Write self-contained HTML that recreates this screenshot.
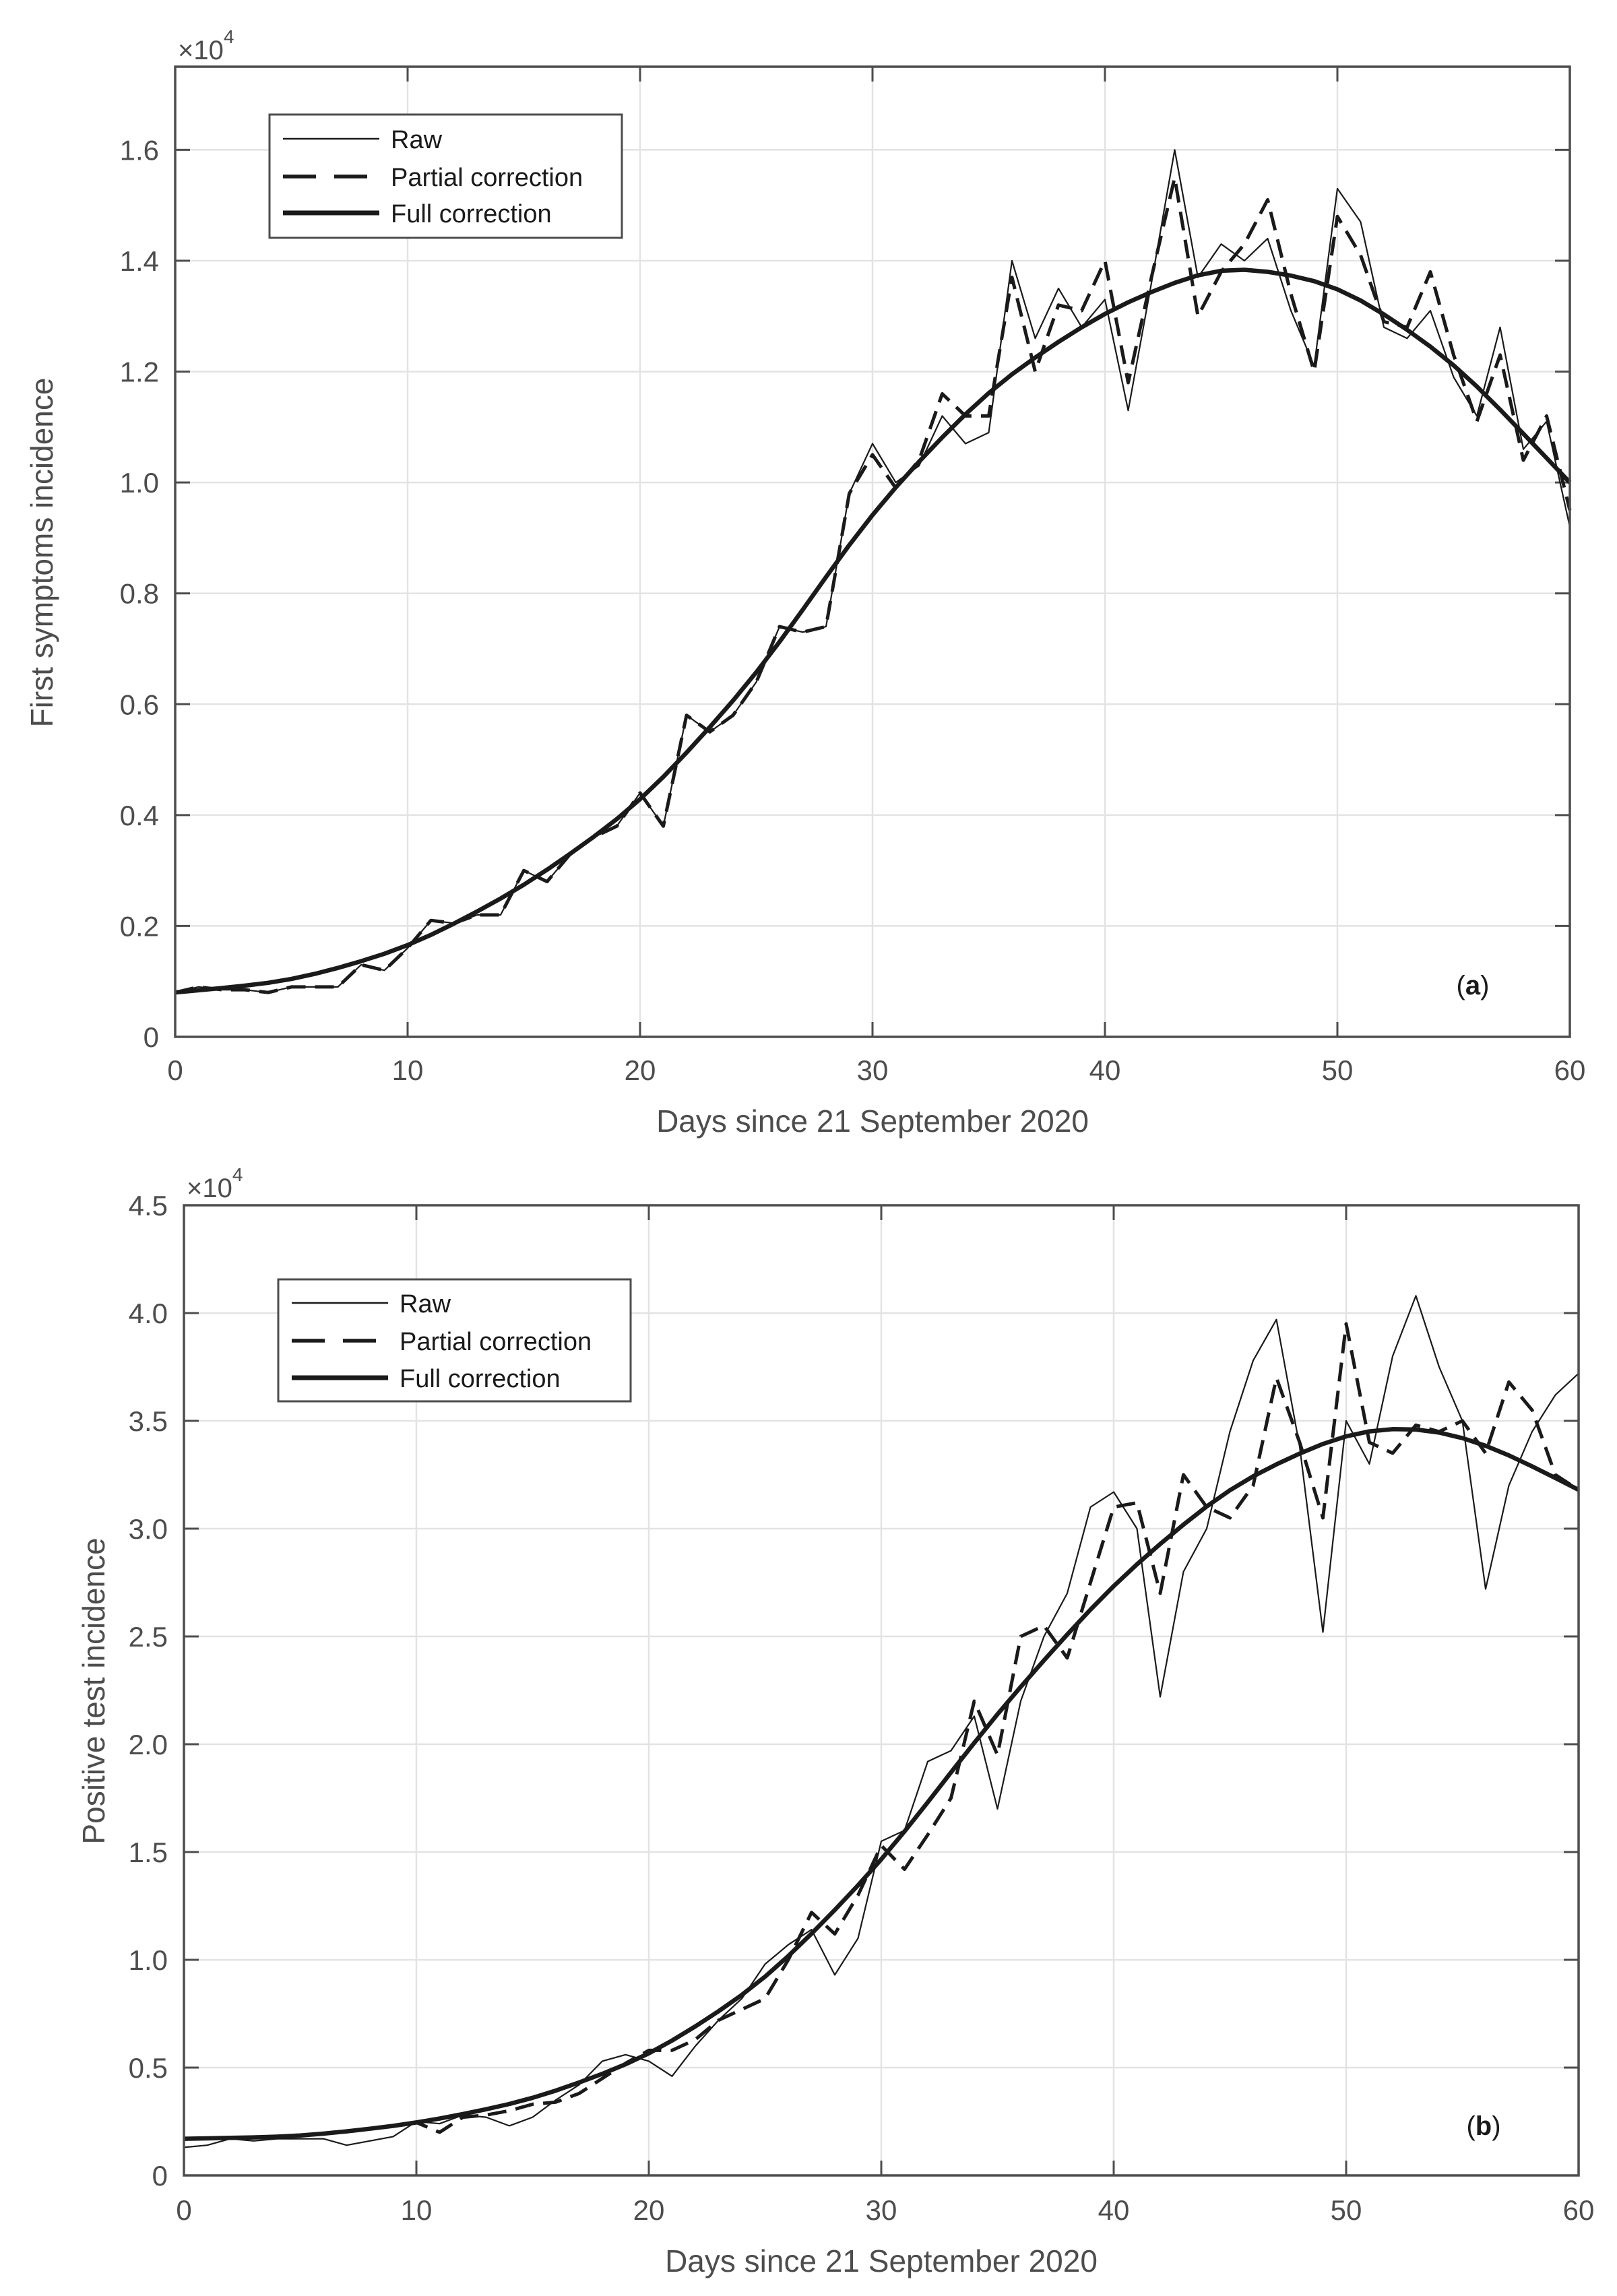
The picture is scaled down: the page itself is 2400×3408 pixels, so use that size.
<!DOCTYPE html>
<html><head><meta charset="utf-8"><style>
html,body{margin:0;padding:0;background:#fff;}
svg{display:block;font-family:"Liberation Sans",Arial,sans-serif;}
</style></head><body>
<svg id="s" width="2400" height="3408" viewBox="0 0 2400 3408" xmlns="http://www.w3.org/2000/svg"></svg>
<script>
const S=document.getElementById('s');let h='';
function plot(o){
 const {L,R,T,B,ymax,ystep,ndec,raw,part,full,leg,exp,lab,labx,laby,ylab,ylx,yly,xty,xtitle}=o;
 const X=d=>L+(R-L)*d/60, Y=v=>B-(B-T)*v/ymax;
 for(let d=0;d<=60;d+=10){h+=`<line x1="${X(d)}" y1="${T}" x2="${X(d)}" y2="${B}" stroke="#e3e3e3" stroke-width="2.5"/>`;}
 for(let v=0;v<=ymax+1e-9;v+=ystep){h+=`<line x1="${L}" y1="${Y(v)}" x2="${R}" y2="${Y(v)}" stroke="#e3e3e3" stroke-width="2.5"/>`;}
 for(let d=0;d<=60;d+=10){h+=`<line x1="${X(d)}" y1="${B}" x2="${X(d)}" y2="${B-22}" stroke="#4d4d4d" stroke-width="3"/><line x1="${X(d)}" y1="${T}" x2="${X(d)}" y2="${T+22}" stroke="#4d4d4d" stroke-width="3"/>`;
  h+=`<text x="${X(d)}" y="${xty}" font-size="42" fill="#4d4d4d" text-anchor="middle">${d}</text>`;}
 for(let v=0;v<=ymax+1e-9;v+=ystep){h+=`<line x1="${L}" y1="${Y(v)}" x2="${L+22}" y2="${Y(v)}" stroke="#4d4d4d" stroke-width="3"/><line x1="${R}" y1="${Y(v)}" x2="${R-22}" y2="${Y(v)}" stroke="#4d4d4d" stroke-width="3"/>`;
  h+=`<text x="${L-24}" y="${Y(v)+15}" font-size="42" fill="#4d4d4d" text-anchor="end">${v<1e-9?'0':v.toFixed(ndec)}</text>`;}
 h+=`<text x="${exp[0]}" y="${exp[1]}" font-size="40" fill="#4d4d4d">×10<tspan font-size="28" dy="-24">4</tspan></text>`;
 const pts=a=>a.map((v,i)=>v==null?null:`${X(i).toFixed(1)},${Y(v).toFixed(1)}`).filter(x=>x).join(' ');
 h+=`<polyline points="${pts(raw)}" fill="none" stroke="#1a1a1a" stroke-width="2.2" stroke-linejoin="round"/>`;
 h+=`<polyline points="${pts(part)}" fill="none" stroke="#1a1a1a" stroke-width="5" stroke-dasharray="28,14" stroke-linejoin="round"/>`;
 h+=`<polyline points="${pts(full)}" fill="none" stroke="#1a1a1a" stroke-width="6.5" stroke-linejoin="round"/>`;
 h+=`<rect x="${L}" y="${T}" width="${R-L}" height="${B-T}" fill="none" stroke="#4d4d4d" stroke-width="3.5"/>`;
 const [lx1,ly1,lx2,ly2,r1,r2,r3]=leg;
 h+=`<rect x="${lx1}" y="${ly1}" width="${lx2-lx1}" height="${ly2-ly1}" fill="#fff" stroke="#4d4d4d" stroke-width="3"/>`;
 const sx=lx1+20,ex=lx1+163,tx=lx1+180;
 h+=`<line x1="${sx}" y1="${r1}" x2="${ex}" y2="${r1}" stroke="#1a1a1a" stroke-width="2.5"/>`;
 h+=`<line x1="${sx}" y1="${r2}" x2="${ex}" y2="${r2}" stroke="#1a1a1a" stroke-width="5.5" stroke-dasharray="49,27"/>`;
 h+=`<line x1="${sx}" y1="${r3}" x2="${ex}" y2="${r3}" stroke="#1a1a1a" stroke-width="7"/>`;
 [["Raw",r1],["Partial correction",r2],["Full correction",r3]].forEach(([t,y])=>{h+=`<text x="${tx}" y="${y+14}" font-size="38" fill="#1a1a1a">${t}</text>`;});
 h+=`<text x="${labx}" y="${laby}" font-size="40" fill="#1a1a1a" text-anchor="middle">(<tspan font-weight="bold">${lab}</tspan>)</text>`;
 h+=`<text x="${(L+R)/2}" y="${xtitle}" font-size="46" fill="#4d4d4d" text-anchor="middle">Days since 21 September 2020</text>`;
 h+=`<text transform="translate(${ylx},${yly}) rotate(-90)" font-size="46" fill="#4d4d4d" text-anchor="middle">${ylab}</text>`;
}
function interp(k){const out=[];const ks=Object.keys(k).map(Number).sort((a,b)=>a-b);
 for(let d=0;d<=60;d++){let i=0;while(i<ks.length-2&&ks[i+1]<=d)i++;const a=ks[i],b=ks[i+1];const t=(d-a)/(b-a);
  out.push(k[a]+(k[b]-k[a])*t);}return out;}
function smooth(a,n){let r=a.slice();for(let k=0;k<n;k++){r=r.map((v,i)=>i==0||i==r.length-1?v:(r[i-1]+2*v+r[i+1])/4);}return r;}
const rawA=[0.08,0.09,0.085,0.085,0.08,0.09,0.09,0.09,0.13,0.12,0.16,0.21,0.205,0.22,0.22,0.30,0.28,0.33,0.36,0.38,0.44,0.38,0.58,0.55,0.58,0.64,0.74,0.73,0.74,0.98,1.07,1.0,1.03,1.12,1.07,1.09,1.40,1.26,1.35,1.28,1.33,1.13,1.36,1.60,1.37,1.43,1.40,1.44,1.31,1.21,1.53,1.47,1.28,1.26,1.31,1.19,1.12,1.28,1.06,1.11,0.92];
const partA=rawA.slice();
[[29,0.98],[30,1.05],[31,0.99],[32,1.04],[33,1.16],[34,1.12],[35,1.12],[36,1.37],[37,1.20],[38,1.32],[39,1.31],[40,1.40],[41,1.18],[42,1.37],[43,1.55],[44,1.30],[45,1.38],[46,1.43],[47,1.51],[48,1.34],[49,1.20],[50,1.48],[51,1.41],[52,1.29],[53,1.28],[54,1.38],[55,1.23],[56,1.11],[57,1.23],[58,1.04],[59,1.12],[60,0.95]].forEach(([d,v])=>partA[d]=v);
const fullA=smooth(interp({0:0.08,5:0.1,10:0.16,15:0.27,20:0.42,25:0.65,30:0.95,35:1.17,40:1.31,45:1.395,50:1.36,55:1.22,60:1.0}),4);
const rawB=[0.13,0.14,0.17,0.16,0.17,0.17,0.17,0.14,0.16,0.18,0.25,0.24,0.28,0.27,0.23,0.27,0.35,0.42,0.53,0.56,0.53,0.46,0.6,0.72,0.82,0.98,1.07,1.14,0.93,1.1,1.55,1.6,1.92,1.97,2.13,1.7,2.2,2.5,2.7,3.1,3.17,3.0,2.22,2.8,3.0,3.45,3.78,3.97,3.38,2.52,3.5,3.3,3.8,4.08,3.75,3.5,2.72,3.2,3.45,3.62,3.72];
const fullB=smooth(interp({0:0.17,5:0.18,10:0.24,15:0.35,20:0.55,25:0.9,30:1.45,35:2.15,40:2.75,45:3.2,50:3.45,53:3.48,56:3.4,60:3.18}),4);
const pb={11:0.2,12:0.27,13:0.28,14:0.3,15:0.33,16:0.34,17:0.38,18:0.45,19:0.52,20:0.58,21:0.58,22:0.63,23:0.72,24:0.77,25:0.82,26:1.0,27:1.22,28:1.12,29:1.3,30:1.53,31:1.42,32:1.58,33:1.75,34:2.2,35:1.95,36:2.5,37:2.55,38:2.4,39:2.75,40:3.1,41:3.12,42:2.7,43:3.25,44:3.1,45:3.05,46:3.2,47:3.7,48:3.4,49:3.05,50:3.95,51:3.4,52:3.35,53:3.48,54:3.45,55:3.5,56:3.35,57:3.68,58:3.55,59:3.25,60:3.18};
const partB=fullB.map((v,i)=>pb[i]!==undefined?pb[i]:v);
plot({L:260,R:2330,T:99,B:1539,ymax:1.75,ystep:0.2,ndec:1,raw:rawA,part:partA,full:fullA,
 leg:[400,170,923,353,206,262,316],exp:[264,88],lab:"a",labx:2186,laby:1476,ylab:"First symptoms incidence",ylx:78,yly:820,xty:1603,xtitle:1680});
plot({L:273,R:2343,T:1789,B:3229,ymax:4.5,ystep:0.5,ndec:1,raw:rawB,part:partB,full:fullB,
 leg:[413,1899,936,2080,1934,1990,2045],exp:[277,1777],lab:"b",labx:2202,laby:3169,ylab:"Positive test incidence",ylx:155,yly:2510,xty:3295,xtitle:3372});
S.innerHTML=h;
</script>
</body></html>
